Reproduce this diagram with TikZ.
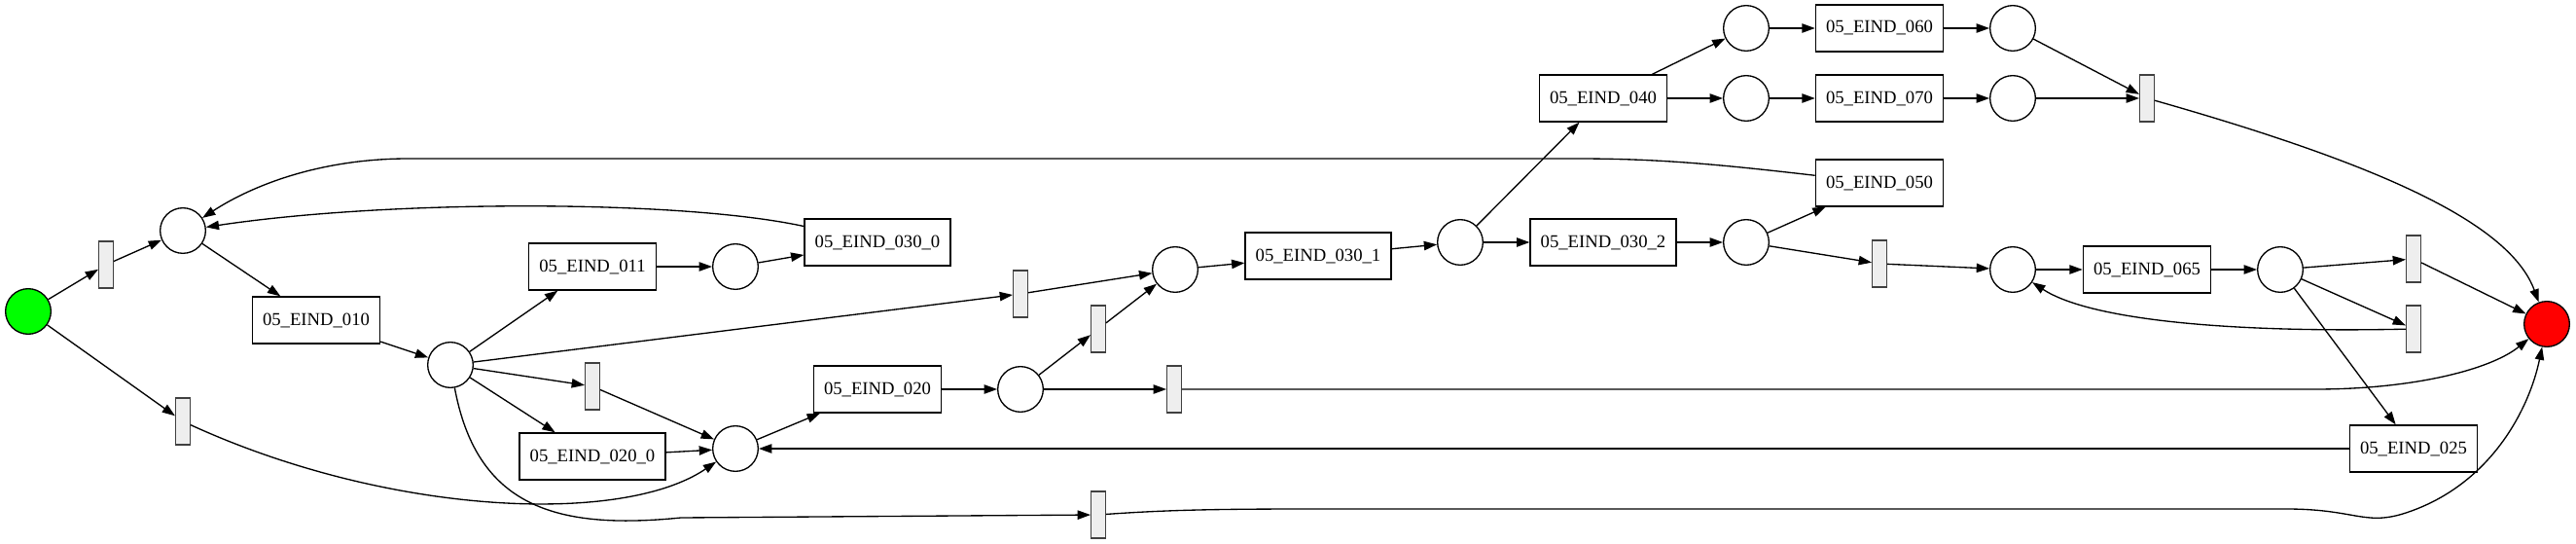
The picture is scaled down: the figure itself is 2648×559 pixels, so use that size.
\documentclass[tikz,border=0pt]{standalone}
\usepackage{fontspec}
\setmainfont{Liberation Serif}
\usepackage{tikz}
\usetikzlibrary{arrows.meta}
\definecolor{transfill}{RGB}{238,238,238}
\tikzstyle{place}=[draw,circle,minimum size=35pt,inner sep=0pt,line width=1pt]
\tikzstyle{trans}=[draw=black!75,fill=transfill,rectangle,minimum width=11pt,minimum height=36pt,inner sep=0pt,line width=1pt]
\tikzstyle{activity}=[draw,rectangle,minimum height=36pt,inner xsep=8pt,inner ysep=0pt,line width=1pt,font=\fontsize{14pt}{16pt}\selectfont]

\begin{document}
\begin{tikzpicture}[x=0.75pt,y=-0.75pt,line width=1pt,>={Triangle[length=10pt,width=7pt]}]
\useasboundingbox (0,0) rectangle (2648,559);
% places
\node [place,fill=green] (start) at (29,320) {};
\node [place] (p1) at (188,237) {};
\node [place] (p2) at (463,375) {};
\node [place] (p3) at (756,274) {};
\node [place] (p4) at (1049,400) {};
\node [place] (p5) at (756,461) {};
\node [place] (p6) at (1208,277) {};
\node [place] (p7) at (1501,249) {};
\node [place] (p8) at (1795,29) {};
\node [place] (p9) at (1795,101) {};
\node [place] (p10) at (1795,249) {};
\node [place] (p11) at (2069,29) {};
\node [place] (p12) at (2069,101) {};
\node [place] (p13) at (2069,277) {};
\node [place] (p14) at (2344,277) {};
\node [place,fill=red] (end) at (2618,333) {};
% silent transitions
\node [trans] (t1) at (109,272) {};
\node [trans] (t2) at (188,433) {};
\node [trans] (t3) at (609,397) {};
\node [trans] (t4) at (1049,302) {};
\node [trans] (t5) at (1129,338) {};
\node [trans] (t6) at (1129,529) {};
\node [trans] (t7) at (1207,400) {};
\node [trans] (t8) at (1932,271) {};
\node [trans] (t9) at (2207,101) {};
\node [trans] (t10) at (2481,266) {};
\node [trans] (t11) at (2481,338) {};
% activities
\node [activity] (e010) at (325,329) {05\_EIND\_010};
\node [activity] (e011) at (609,274) {05\_EIND\_011};
\node [activity] (e020a) at (609,469) {05\_EIND\_020\_0};
\node [activity] (e030a) at (902,249) {05\_EIND\_030\_0};
\node [activity] (e020) at (902,400) {05\_EIND\_020};
\node [activity] (e030b) at (1355,263) {05\_EIND\_030\_1};
\node [activity] (e040) at (1648,101) {05\_EIND\_040};
\node [activity] (e030c) at (1648,249) {05\_EIND\_030\_2};
\node [activity] (e060) at (1932,29) {05\_EIND\_060};
\node [activity] (e070) at (1932,101) {05\_EIND\_070};
\node [activity] (e050) at (1932,188) {05\_EIND\_050};
\node [activity] (e065) at (2207,277) {05\_EIND\_065};
\node [activity] (e025) at (2481,461) {05\_EIND\_025};
% arcs
\draw [->] (start) -- (t1);
\draw [->] (t1) -- (p1);
\draw [->] (start) -- (t2);
\draw [->] (t2) .. controls (400,530) and (640,540) .. (p5);
\draw [->] (p1) -- (e010);
\draw [->] (e010) -- (p2);
\draw [->] (p2) -- (e011);
\draw [->] (p2) -- (t4);
\draw [->] (p2) -- (t3);
\draw [->] (p2) -- (e020a);
\draw [->] (p2) .. controls (490,520) and (570,545) .. (700,532) -- (t6);
\draw [->] (e011) -- (p3);
\draw [->] (p3) -- (e030a);
\draw [->] (e030a) .. controls (700,205) and (400,205) .. (p1);
\draw [->] (t3) -- (p5);
\draw [->] (e020a) -- (p5);
\draw [->] (p5) -- (e020);
\draw [->] (e020) -- (p4);
\draw [->] (p4) -- (t5);
\draw [->] (p4) -- (t7);
\draw [->] (t5) -- (p6);
\draw [->] (t4) -- (p6);
\draw [->] (p6) -- (e030b);
\draw [->] (e030b) -- (p7);
\draw [->] (p7) -- (e040);
\draw [->] (p7) -- (e030c);
\draw [->] (e040) -- (p8);
\draw [->] (e040) -- (p9);
\draw [->] (p8) -- (e060);
\draw [->] (p9) -- (e070);
\draw [->] (e060) -- (p11);
\draw [->] (e070) -- (p12);
\draw [->] (p11) -- (t9);
\draw [->] (p12) -- (t9);
\draw [->] (t9) .. controls (2450,170) and (2580,230) .. (end);
\draw [->] (e030c) -- (p10);
\draw [->] (p10) -- (e050);
\draw [->] (p10) -- (t8);
\draw [->] (e050) .. controls (1760,168) and (1700,163) .. (1620,163) -- (420,163) .. controls (330,163) and (260,190) .. (p1);
\draw [->] (t8) -- (p13);
\draw [->] (p13) -- (e065);
\draw [->] (e065) -- (p14);
\draw [->] (p14) -- (t10);
\draw [->] (p14) -- (t11);
\draw [->] (p14) -- (e025);
\draw [->] (t10) -- (end);
\draw [->] (t11) .. controls (2300,342) and (2150,330) .. (p13);
\draw [->] (e025) -- (p5);
\draw [->] (t7) -- (2380,400) .. controls (2480,400) and (2560,380) .. (end);
\draw [->] (t6) .. controls (1200,524) and (1250,523) .. (1350,523) -- (2350,523) .. controls (2420,523) and (2430,540) .. (2470,528) .. controls (2560,500) and (2600,420) .. (end);
\end{tikzpicture}
\end{document}
